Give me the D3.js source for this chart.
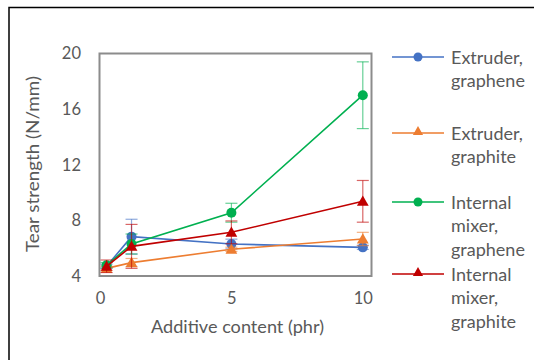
<!DOCTYPE html>
<html><head><meta charset="utf-8">
<script src="https://cdn.jsdelivr.net/npm/d3@7/dist/d3.min.js"></script>
<style>body{margin:0;background:#fff}svg{display:block}text{font-family:Lato,"Open Sans",sans-serif;fill:#595959}</style>
</head><body>
<script>
const xValues = [0.25, 1.2, 5, 10];
const seriesNames = [["Extruder,","graphene"],["Extruder,","graphite"],["Internal","mixer,","graphene"],["Internal","mixer,","graphite"]];
const extruderGraphene = [4.7, 6.83, 6.3, 6.06];
const extruderGraphiteVals = [4.55, 4.96, 5.92, 6.66];
const internalGraphene = [4.77, 6.3, 8.55, 17.0];
const internalGraphite = [4.7, 6.13, 7.14, 9.37];
const errExtruderGraphene = [0.15, 1.25, 0.35, 0.15];
const errExtruderGraphite = [0.15, 0.3, 0.15, 0.48];
const errInternalGraphene = [0.2, 0.72, 0.68, 2.4];
const errInternalGraphite = [0.45, 1.58, 0.82, 1.5];
const xTicks = [0, 5, 10];
const yTicks = [4, 8, 12, 16, 20];
const colors = ["#4472C4", "#ED7D31", "#00B050", "#C00000"];
const markers = ["circle", "triangle", "circle", "triangle"];

const series = [extruderGraphene, extruderGraphiteVals, internalGraphene, internalGraphite].map((v, i) => ({
  name: seriesNames[i], values: v,
  err: [errExtruderGraphene, errExtruderGraphite, errInternalGraphene, errInternalGraphite][i],
  color: colors[i], marker: markers[i]
}));

const W = 534, H = 360;
const svg = d3.select("body").append("svg").attr("width", W).attr("height", H);
svg.append("rect").attr("x", 9).attr("y", 7.5).attr("width", 540).attr("height", 400)
  .attr("fill", "none").attr("stroke", "#000").attr("stroke-width", 1.5);

const x = d3.scaleLinear().domain([0, 10.35]).range([100, 372]);
const y = d3.scaleLinear().domain([4, 20]).range([276, 53.5]);

svg.append("rect").attr("x", 99.5).attr("y", 53.5).attr("width", 272).attr("height", 222.5)
  .attr("fill", "none").attr("stroke", "#8c8c8c").attr("stroke-width", 2);

const yAxis = svg.append("g").attr("transform", "translate(99,0)")
  .call(d3.axisLeft(y).tickValues(yTicks).tickSize(0).tickPadding(18));
yAxis.select(".domain").remove();
yAxis.selectAll("text").style("font-size", "16.5px").attr("fill", "#595959");
const xAxis = svg.append("g").attr("transform", "translate(0,276)")
  .call(d3.axisBottom(x).tickValues(xTicks).tickSize(0).tickPadding(16));
xAxis.select(".domain").remove();
xAxis.selectAll("text").style("font-size", "16.5px").attr("fill", "#595959");

svg.append("text").attr("x", 237.5).attr("y", 333).attr("text-anchor", "middle")
  .style("font-size", "17.5px").attr("textLength", 173).attr("lengthAdjust", "spacingAndGlyphs")
  .text("Additive content (phr)");
svg.append("text").attr("transform", "translate(39,164) rotate(-90)").attr("text-anchor", "middle")
  .style("font-size", "17.5px").attr("textLength", 176).attr("lengthAdjust", "spacingAndGlyphs")
  .text("Tear strength (N/mm)");

const line = d3.line().x((d, i) => x(xValues[i])).y(d => y(d));
const tri = d3.symbol().type(d3.symbolTriangle).size(60);

series.forEach(s => {
  const g = svg.append("g");
  s.values.forEach((v, i) => {
    const cx = x(xValues[i]);
    const eg = g.append("g").attr("stroke", s.color).attr("stroke-opacity", 0.6).attr("stroke-width", 1.2);
    eg.append("line").attr("x1", cx).attr("x2", cx).attr("y1", y(v - s.err[i])).attr("y2", y(v + s.err[i]));
    [v - s.err[i], v + s.err[i]].forEach(e => eg.append("line")
      .attr("x1", cx - 6).attr("x2", cx + 6).attr("y1", y(e)).attr("y2", y(e)));
  });
  g.append("path").datum(s.values).attr("d", line).attr("fill", "none")
    .attr("stroke", s.color).attr("stroke-width", 1.6);
  s.values.forEach((v, i) => {
    if (s.marker === "circle") g.append("circle").attr("cx", x(xValues[i])).attr("cy", y(v)).attr("r", 5).attr("fill", s.color);
    else g.append("path").attr("d", tri).attr("transform", `translate(${x(xValues[i])},${y(v) + 1})`).attr("fill", s.color);
  });
});

const legendY = [57, 133, 202, 274];
series.forEach((s, i) => {
  const g = svg.append("g").attr("transform", `translate(0,${legendY[i]})`);
  g.append("line").attr("x1", 392).attr("x2", 444).attr("y1", 0).attr("y2", 0)
    .attr("stroke", s.color).attr("stroke-width", 1.6);
  if (s.marker === "circle") g.append("circle").attr("cx", 418).attr("cy", 0).attr("r", 4.5).attr("fill", s.color);
  else g.append("path").attr("d", d3.symbol().type(d3.symbolTriangle).size(45)).attr("transform", "translate(418,-1)").attr("fill", s.color);
  s.name.forEach((t, j) => g.append("text").attr("x", 451).attr("y", 6.5 + j * 23.5)
    .style("font-size", "18px").text(t));
});
</script>
</body></html>
